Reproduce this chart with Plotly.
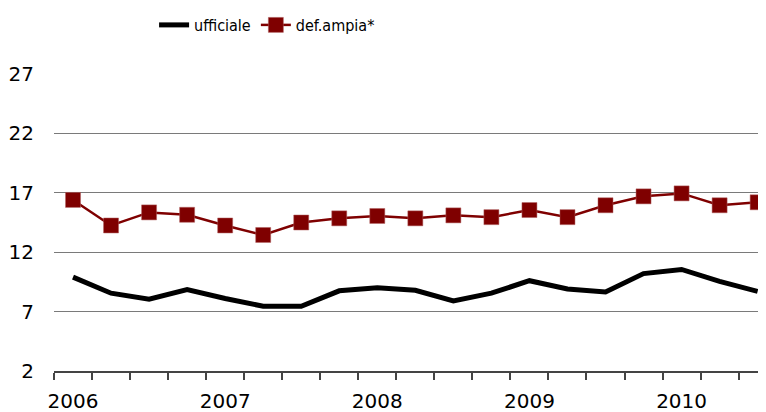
import plotly.graph_objects as go

quarters = list(range(19))  # 2006 Q1 .. 2010 Q3
ufficiale = [9.9, 8.55, 8.05, 8.85, 8.1, 7.45, 7.45, 8.75, 9.0, 8.8, 7.9, 8.55,
             9.6, 8.9, 8.65, 10.2, 10.55, 9.55, 8.7]
def_ampia = [16.4, 14.25, 15.35, 15.15, 14.25, 13.45, 14.5, 14.85, 15.05, 14.85, 15.1, 14.95,
             15.55, 14.95, 15.95, 16.7, 16.95, 15.95, 16.2]
year_pos = [0, 4, 8, 12, 16]
year_labels = ["2006", "2007", "2008", "2009", "2010"]
y_ticks = [2, 7, 12, 17, 22, 27]

FONT = "DejaVu Sans"
fig = go.Figure()
fig.add_trace(go.Scatter(x=quarters, y=ufficiale, mode="lines", name="ufficiale",
                         line=dict(color="black", width=5)))
fig.add_trace(go.Scatter(x=quarters, y=def_ampia, mode="lines+markers", name="def.ampia*",
                         line=dict(color="#7f0000", width=2.5),
                         marker=dict(symbol="square", size=15, color="#7f0000",
                                     line=dict(color="#b06060", width=0.5))))

fig.update_layout(
    width=766, height=412,
    margin=dict(l=46, r=0, t=66, b=49, autoexpand=False),
    paper_bgcolor="white", plot_bgcolor="white",
    font=dict(family=FONT, color="black", size=20),
    showlegend=True,
    legend=dict(orientation="h", x=0.139, y=1.165, xanchor="left", yanchor="middle",
                font=dict(family="DejaVu Sans Condensed", size=16),
                itemwidth=30, tracegroupgap=0, bgcolor="rgba(0,0,0,0)"),
    xaxis=dict(range=[-0.5, 18.43], tickmode="array", tickvals=year_pos, ticktext=year_labels,
               ticks="", showgrid=False, zeroline=False, showline=True, automargin=False,
               linecolor="#444", linewidth=1.5, ticklabelstandoff=11,
               tickfont=dict(size=20),
               minor=dict(ticks="outside", tickmode="linear", tick0=-0.5, dtick=1,
                          ticklen=7, tickwidth=1.5, tickcolor="#444", showgrid=False)),
    yaxis=dict(range=[2, 27], tickmode="array", tickvals=y_ticks, showgrid=True,
               gridcolor="#7a7a7a", gridwidth=1, zeroline=False, showline=False,
               automargin=False,
               ticks="", ticklabelstandoff=19, tickfont=dict(size=20)),
)
fig.write_html("out.html")
